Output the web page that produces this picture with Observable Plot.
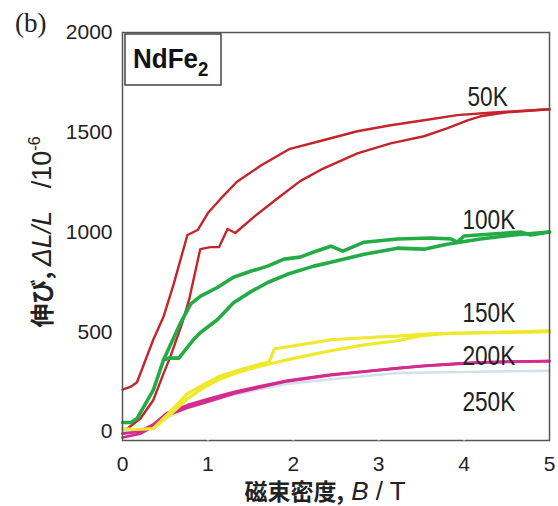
<!DOCTYPE html>
<html><head><meta charset="utf-8">
<script src="https://cdn.jsdelivr.net/npm/d3@7"></script>
<script src="https://cdn.jsdelivr.net/npm/@observablehq/plot@0.6"></script>
<style>body{margin:0;background:#fff}</style>
</head><body><div id="chart"></div>
<script>
// ---- data (B in T, strain in 1e-6) ----
const xTicks = [0, 1, 2, 3, 4, 5];
const yTicks = [0, 500, 1000, 1500, 2000];
const temps = ["50K", "100K", "150K", "200K", "250K"];

const k50a = [[0,210],[0.1,225],[0.17,247],[0.36,460],[0.48,575],[0.6,740],[0.76,985],[0.88,1010],[1.0,1095],[1.15,1167],[1.34,1252],[1.62,1333],[1.95,1415],[2.35,1460],[2.75,1505],[3.14,1535],[3.53,1560],[3.92,1586],[4.3,1598],[4.7,1608],[5,1615]];
const k50b = [[0.03,5],[0.21,65],[0.36,157],[0.48,290],[0.56,374],[0.7,545],[0.78,661],[0.91,914],[1.03,924],[1.13,924],[1.23,1015],[1.32,995],[1.54,1076],[1.81,1167],[2.08,1255],[2.35,1318],[2.75,1394],[3.14,1444],[3.53,1480],[3.8,1520],[4.04,1560],[4.19,1580],[4.5,1600],[5,1615]];

const k100a = [[0,45],[0.1,45],[0.17,65],[0.36,207],[0.48,358],[0.54,368],[0.66,368],[0.83,460],[0.91,495],[1.11,560],[1.3,645],[1.5,700],[1.7,747],[1.93,788],[2.24,829],[2.44,848],[2.83,889],[3.22,919],[3.53,914],[3.8,939],[4.19,965],[4.58,985],[5,1000]];
const k100b = [[0.48,358],[0.68,545],[0.8,640],[0.91,677],[1.11,722],[1.3,773],[1.5,803],[1.7,829],[1.89,864],[2.08,874],[2.24,900],[2.44,929],[2.58,904],[2.83,949],[3.22,965],[3.61,970],[3.85,965],[3.92,949],[4.0,980],[4.66,1000],[4.78,985],[5,1000]];

const k150a = [[0,15],[0.15,10],[0.36,15],[0.56,85],[0.76,165],[0.95,220],[1.15,265],[1.34,295],[1.54,320],[1.73,340],[2.08,374],[2.44,405],[2.83,434],[3.22,455],[3.5,480],[3.8,492],[4.2,495],[4.6,497],[5,500]];
const k150b = [[0.36,15],[0.56,100],[0.76,190],[0.95,235],[1.15,280],[1.34,305],[1.54,330],[1.72,350],[1.78,415],[2.08,434],[2.44,460],[2.83,470],[3.22,478],[3.6,490],[4.2,495],[5,505]];

const k200a = [[0,-30],[0.21,-10],[0.36,25],[0.52,80],[0.76,120],[1.0,150],[1.3,190],[1.62,222],[1.93,252],[2.44,283],[2.83,300],[3.22,318],[3.6,332],[4,343],[4.5,350],[5,353]];
const k200b = [[0,-10],[0.2,0],[0.36,35],[0.52,92],[0.76,132],[1.0,162],[1.3,198],[1.62,228],[1.93,255],[2.44,285],[3.5,328],[4.2,346],[5,353]];

const k250a = [[0,0],[0.36,20],[0.52,70],[0.76,115],[1.0,148],[1.3,183],[1.62,213],[1.93,238],[2.44,262],[3.22,293],[4,298],[5,305]];

// ---- build table ----
const series = [
  {name: "50K", branches: [k50a, k50b], color: "#c4252c", width: 2.4},
  {name: "250K", branches: [k250a], color: "#d3e1ea", width: 2.5},
  {name: "200K", branches: [k200a, k200b], color: "#d42b8e", width: 2.8},
  {name: "150K", branches: [k150a, k150b], color: "#f0e82c", width: 3.2},
  {name: "100K", branches: [k100a, k100b], color: "#23ab45", width: 3.6}
];
const rows = [];
series.forEach(s => s.branches.forEach((br, i) => br.forEach(([B, v]) => rows.push({T: s.name, br: s.name + "-" + i, B, v}))));

// label anchor positions (data space)
const labelB = [4.04, 3.98, 3.98, 3.98, 3.98];
const labelV = [1677, 1056, 590, 379, 148];
const labels = temps.map((t, i) => ({t, B: labelB[i], v: labelV[i]}));

const chart = Plot.plot({
  width: 558, height: 506,
  marginLeft: 122, marginRight: 9, marginTop: 32, marginBottom: 66,
  style: {fontFamily: "'Liberation Sans', Arial, sans-serif", fontSize: "21px", color: "#222", background: "white", overflow: "visible"},
  x: {domain: [0, 5], ticks: xTicks, label: null, tickSize: 0, tickPadding: 16, tickFormat: d3.format("d")},
  y: {domain: [-45, 2000], ticks: yTicks, label: null, tickSize: 0, tickPadding: 10, tickFormat: d3.format("d")},
  marks: [
    ...series.map(s => Plot.line(rows.filter(r => r.T === s.name), {x: "B", y: "v", z: "br", stroke: s.color, strokeWidth: s.width, strokeLinejoin: "round"})),
    Plot.frame({stroke: "#555", strokeWidth: 1.5}),
    Plot.ruleX(xTicks.slice(1, -1), {y1: -47, y2: -42, stroke: "white", strokeWidth: 2}),
    Plot.text(labels, {x: "B", y: "v", text: "t", textAnchor: "start", lineAnchor: "middle", fontSize: 27, fill: "#222", fontFamily: "'Liberation Sans', Arial, sans-serif", className: "templabel"})
  ]
});
document.getElementById("chart").appendChild(chart);

// ---- annotations ----
const svg = d3.select(chart);
// condense the temperature labels (narrow face like the original)
svg.selectAll("g.templabel text").each(function () {
  const t = d3.select(this);
  t.attr("transform", (t.attr("transform") || "") + " scale(0.84,1)");
});
const xs = chart.scale("x"), ys = chart.scale("y");
const frameLeft = xs.apply(0), frameTop = ys.apply(2000);

// (b)
svg.append("text").attr("x", 15).attr("y", 32).attr("text-anchor", "start")
  .attr("font-family", "'Liberation Serif', serif").attr("font-size", 27).attr("fill", "#222").text("(b)");

// NdFe2 box
svg.append("rect").attr("x", frameLeft + 3).attr("y", frameTop + 2).attr("width", 96).attr("height", 51)
  .attr("fill", "white").attr("stroke", "#444").attr("stroke-width", 1.5);
const nd = svg.append("text").attr("x", frameLeft + 11).attr("y", frameTop + 36).attr("text-anchor", "start")
  .attr("font-family", "'Liberation Sans', Arial, sans-serif").attr("font-weight", "bold").attr("font-size", 28).attr("fill", "#111")
  .attr("transform", `translate(${frameLeft + 11},0) scale(0.93,1) translate(${-(frameLeft + 11)},0)`);
nd.append("tspan").text("NdFe");
nd.append("tspan").attr("font-size", 20).attr("dy", 8).text("2");

// x axis title
const xt = svg.append("text").attr("x", 325).attr("y", 500).attr("text-anchor", "middle")
  .attr("font-family", "'Noto Sans CJK JP', sans-serif").attr("font-size", 23).attr("fill", "#222");
xt.append("tspan").attr("font-weight", "bold").text("磁束密度,");
xt.append("tspan").attr("font-family", "'Liberation Sans', sans-serif").attr("font-size", 26).attr("font-style", "italic").text(" B");
xt.append("tspan").attr("font-family", "'Liberation Sans', sans-serif").attr("font-size", 26).text(" / T");

// y axis title
const yt = svg.append("text").attr("transform", "translate(51,232) rotate(-90)").attr("text-anchor", "middle")
  .attr("font-family", "'Noto Sans CJK JP', sans-serif").attr("font-size", 24).attr("fill", "#222");
yt.append("tspan").attr("font-weight", "bold").text("伸び, ");
yt.append("tspan").attr("font-family", "'Liberation Sans', sans-serif").attr("font-size", 27).attr("font-style", "italic").text("ΔL/L");
yt.append("tspan").attr("font-family", "'Liberation Sans', sans-serif").attr("font-size", 27).attr("xml:space", "preserve").text("   /10");
yt.append("tspan").attr("font-family", "'Liberation Sans', sans-serif").attr("font-size", 16).attr("dy", -11).text("-6");
</script>
</body></html>
